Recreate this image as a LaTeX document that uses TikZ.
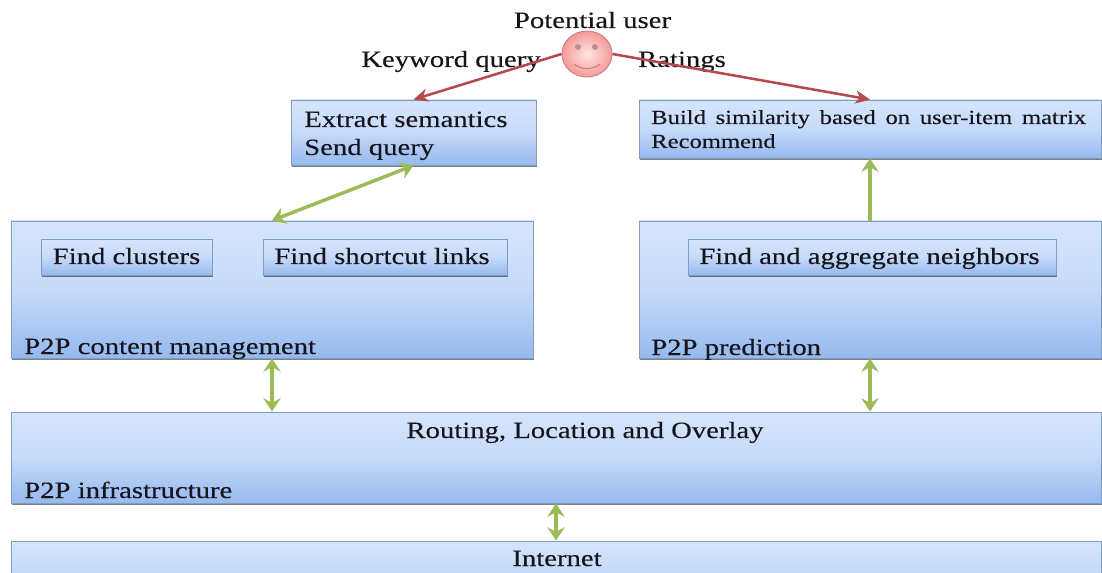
\documentclass[tikz,border=0pt]{standalone}
\usepackage{fontspec}
\setmainfont[FakeStretch=1.23,FakeBold=0.2]{Liberation Serif}
\usetikzlibrary{shadows,arrows.meta,positioning,shapes.geometric}
\definecolor{boxline}{HTML}{7F9DBF}
\definecolor{boxtop}{HTML}{D6E5FC}
\definecolor{boxmid}{HTML}{C6DAFA}
\definecolor{boxbot}{HTML}{96B9EE}
\definecolor{redline}{HTML}{B5494C}
\definecolor{greenline}{HTML}{9BBB59}
\definecolor{inktext}{HTML}{15151C}
\definecolor{facein}{HTML}{FDE4E2}
\definecolor{faceout}{HTML}{F49A98}
\tikzset{
  x=0.75pt,y=-0.75pt,
  panel/.style={draw=boxline,line width=0.7pt,rectangle,inner sep=0pt,
    top color=boxtop,bottom color=boxbot,middle color=boxmid,
    drop shadow={shadow xshift=0.6pt,shadow yshift=-1.4pt,opacity=0.5,fill=black}},
  label/.style={text=inktext,font=\fontsize{17.5}{20}\selectfont,inner sep=0pt,align=left},
  smalllabel/.style={text=inktext,font=\fontsize{15}{18}\selectfont,inner sep=0pt},
  redarrow/.style={draw=redline,line width=1.9pt,-{Stealth[length=11pt,width=10pt,inset=3.5pt]}},
  greenarrow/.style={draw=greenline,line width=2.6pt,{Stealth[length=10pt,width=13pt,inset=3.5pt]}-{Stealth[length=10pt,width=13pt,inset=3.5pt]}},
  greensingle/.style={draw=greenline,line width=2.6pt,-{Stealth[length=10pt,width=13pt,inset=3.5pt]}},
  facestyle/.style={draw=redline!70,line width=0.7pt,ellipse,inner sep=0pt,inner color=facein,outer color=faceout,minimum width=37.5pt,minimum height=34.5pt},
}
\newcommand{\panelbox}[5]{% name, x0,y0,x1,y1
  \node[panel,minimum width={(#4-#2)*0.75pt},minimum height={(#5-#3)*0.75pt}] (#1) at ({(#2+#4)/2},{(#3+#5)/2}) {};
}
\begin{document}
\begin{tikzpicture}
\useasboundingbox (0,0) rectangle (1102,573);
\clip (0,0) rectangle (1102,573);
\fill[white] (0,0) rectangle (1102,573);
\panelbox{extract}{291}{100}{536}{165}
\panelbox{build}{639}{100}{1101}{158}
\panelbox{content}{11}{221}{533}{358}
\panelbox{pred}{639}{221}{1101}{358}
\panelbox{infra}{11}{412}{1101}{503}
\panelbox{internet}{11}{541}{1101}{600}
\panelbox{clusters}{41}{239}{212}{275}
\panelbox{shortcut}{263}{239}{507}{275}
\panelbox{neighbors}{688}{239}{1056}{275}
\node[facestyle] (face) at (587,54) {};
\fill[redline!60!gray!70] (578,47) ellipse (3 and 3);
\fill[redline!60!gray!70] (595,47) ellipse (3 and 3);
\draw[redline!80,line width=0.6pt] (574,64) .. controls (581,70) and (593,70) .. (600,64);
\node[label,anchor=base] (user) at (592.5,28) {Potential user};
\node[label,anchor=base] (kw) at (451,67) {Keyword query};
\node[label,anchor=base] (rat) at (682,67) {Ratings};
\node[label,anchor=base west] (t1) at (304,127) {Extract semantics};
\node[label,anchor=base west] (t2) at (304,155) {Send query};
\node[smalllabel,anchor=base west] (t3) at (651,124) {\spaceskip=7.3pt\relax Build similarity based on user-item matrix};
\node[smalllabel,anchor=base west] (t4) at (651,148) {Recommend};
\node[label,anchor=base] (t10) at (126.5,264) {Find clusters};
\node[label,anchor=base] (t11) at (382,264) {Find shortcut links};
\node[label,anchor=base] (t12) at (869.5,264) {Find and aggregate neighbors};
\node[label,anchor=base west] (t5) at (24,354) {P2P content management};
\node[label,anchor=base west] (t6) at (651,355) {P2P prediction};
\node[label,anchor=base] (t7) at (585,438) {Routing, Location and Overlay};
\node[label,anchor=base west] (t8) at (24,498) {P2P infrastructure};
\node[label,anchor=base] (t9) at (557,566) {Internet};
\draw[redarrow] (face.west) -- (extract.north);
\draw[redarrow] (face.east) -- (build.north);
\draw[greenarrow] (extract.south) -- (content.north);
\draw[greensingle] (pred.north) -- (build.south);
\draw[greenarrow] (content.south) -- (content.south |- infra.north);
\draw[greenarrow] (pred.south) -- (pred.south |- infra.north);
\draw[greenarrow] (infra.south) -- (internet.north);
\end{tikzpicture}
\end{document}
